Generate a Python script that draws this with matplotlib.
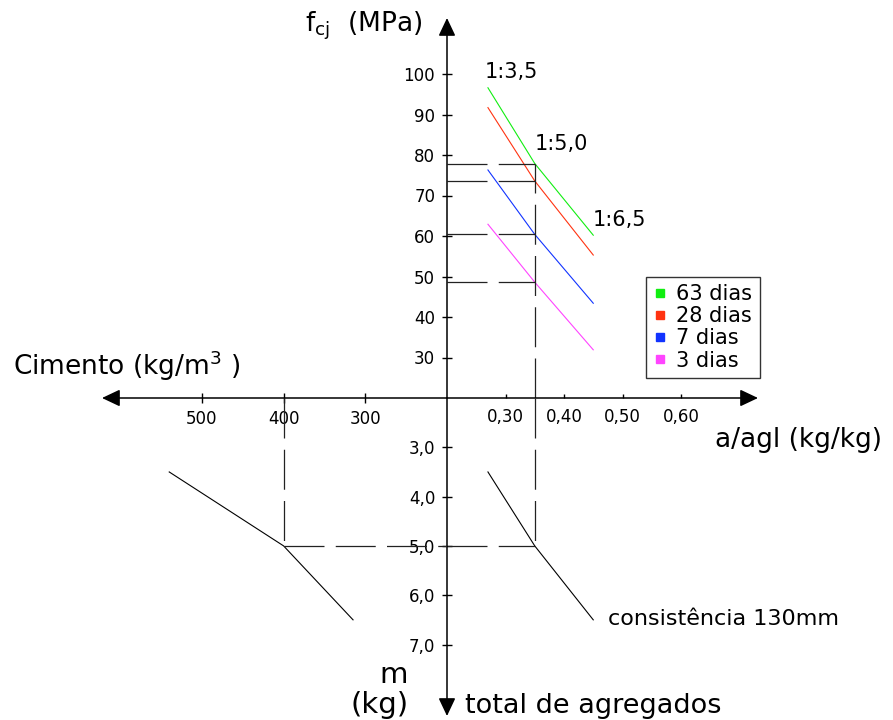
import matplotlib
matplotlib.use("Agg")
import matplotlib.pyplot as plt
from matplotlib.lines import Line2D

# diagrama de dosagem (4 quadrantes)
m_values = [3.5, 5.0, 6.5]            # traco 1:m
trace_labels = ["1:3,5", "1:5,0", "1:6,5"]
a_agl = [0.27, 0.35, 0.45]            # relacao agua/aglomerante
cimento = [540, 400, 315]             # consumo de cimento (kg/m3)

ages = ["63 dias", "28 dias", "7 dias", "3 dias"]
fcj_63 = [96.6, 77.9, 60.2]
fcj_28 = [91.7, 73.6, 55.3]
fcj_7 = [76.3, 60.4, 43.4]
fcj_3 = [62.9, 48.6, 31.9]
colors = ["#11ee11", "#ff3311", "#1133ff", "#ff44ff"]

# ponto escolhido (linhas tracejadas)
a_agl_sel = 0.35
m_sel = 5.0
cimento_sel = 400

fcj_ticks = [30, 40, 50, 60, 70, 80, 90, 100]
a_ticks = [0.30, 0.40, 0.50, 0.60]
cim_ticks = [300, 400, 500]
m_ticks = [3, 4, 5, 6, 7]

# origem de cada escala no cruzamento dos eixos
A0, F0, C0, M0 = 0.20, 20, 200, 2.0

W, H = 893, 720


def rect(x0, y0, x1, y1):
    # pixels (y medido de cima) -> fracao da figura
    return [x0 / W, 1 - y1 / H, (x1 - x0) / W, (y1 - y0) / H]


def fig_text(fig, x, y, s, size, **kw):
    fig.text(x / W, 1 - y / H, s, fontsize=size, va="baseline", **kw)


def arrow(ax, start, end):
    ax.annotate("", xy=end, xytext=start, xycoords="axes fraction",
                arrowprops=dict(arrowstyle="-|>,head_length=0.55,head_width=0.26",
                                color="black", lw=1.1, mutation_scale=20,
                                shrinkA=0, shrinkB=0))


def comma(v, nd):
    return f"{v:.{nd}f}".replace(".", ",")


fig = plt.figure(figsize=(W / 100, H / 100), dpi=100)

ur = fig.add_axes(rect(447, 18, 758, 398))
ul = fig.add_axes(rect(102, 18, 447, 398))
lr = fig.add_axes(rect(447, 398, 758, 716))
ll = fig.add_axes(rect(102, 398, 447, 716))

a_lim = (A0, A0 + 311 / 585)
f_lim = (F0, F0 + 380 / 4.05)
c_lim = (C0 + 345 / 0.817, C0)
m_lim = (M0 + 318 / 49.3, M0)

for ax in (ur, ul, lr, ll):
    ax.set_facecolor("none")
    for sp in ax.spines.values():
        sp.set_visible(False)

ur.set_xlim(a_lim); ur.set_ylim(f_lim)
ul.set_xlim(c_lim); ul.set_ylim(f_lim)
lr.set_xlim(a_lim); lr.set_ylim(m_lim)
ll.set_xlim(c_lim); ll.set_ylim(m_lim)

# ticks
ur.set_xticks(a_ticks, [comma(v, 2) for v in a_ticks])
ur.set_yticks(fcj_ticks, [str(v) for v in fcj_ticks])
ur.tick_params(axis="x", direction="in", length=3, width=1, labelsize=12, pad=7)
ur.tick_params(axis="y", direction="inout", length=7, width=1, labelsize=12, pad=5)
ul.set_xticks(cim_ticks, [str(v) for v in cim_ticks])
ul.set_yticks([])
ul.tick_params(axis="x", direction="inout", length=7, width=1, labelsize=12, pad=5)
lr.set_xticks([])
lr.set_yticks(m_ticks, [comma(v, 1) for v in m_ticks])
lr.tick_params(axis="y", direction="inout", length=7, width=1, labelsize=12, pad=5)
ll.set_xticks([]); ll.set_yticks([])

# eixos com setas
arrow(ur, (0, 0), (1, 0))
arrow(ur, (0, 0), (0, 1))
arrow(ul, (1, 0), (0, 0))
arrow(lr, (0, 1), (0, 0))

# curvas de Abrams
series = [fcj_63, fcj_28, fcj_7, fcj_3]
for vals, col, lab in zip(series, colors, ages):
    ur.plot(a_agl, vals, color=col, lw=0.8, label=lab)

# lei de Lyse e lei de Molinari
lr.plot(a_agl, m_values, color="black", lw=0.8)
ll.plot(cimento, m_values, color="black", lw=0.8)

# linhas tracejadas do exemplo
dash = dict(color="#222222", lw=0.9, linestyle=(0, (32, 9)))
idx = a_agl.index(a_agl_sel)
for vals in series:
    ur.plot([A0, a_agl_sel], [vals[idx], vals[idx]], **dash)
ur.plot([a_agl_sel, a_agl_sel], [F0, max(v[idx] for v in series)], **dash)
lr.plot([a_agl_sel, a_agl_sel], [M0, m_sel], **dash)
lr.plot([A0, a_agl_sel], [m_sel, m_sel], **dash)
ll.plot([cimento_sel, C0], [m_sel, m_sel], **dash)
ll.plot([cimento_sel, cimento_sel], [M0, m_sel], **dash)

# legenda
handles = [Line2D([], [], marker="s", ls="none", color=c, markersize=6)
           for c in colors]
leg = fig.legend(handles, ages, loc="upper left",
                 bbox_to_anchor=(646 / W, 1 - 277 / H), borderaxespad=0,
                 fontsize=15, frameon=True, fancybox=False, edgecolor="black",
                 handlelength=0.6, handletextpad=0.5, labelspacing=0.1,
                 borderpad=0.35)
leg.get_frame().set_linewidth(1.0)

# textos
fig_text(fig, 305, 32, r"f$_{\mathregular{cj}}$  (MPa)", 19)
fig_text(fig, 13, 375, r"Cimento (kg/m$^{\mathregular{3}}$ )", 19)
fig_text(fig, 715, 447, "a/agl (kg/kg)", 19)
fig_text(fig, 465, 713, "total de agregados", 19.5)
fig_text(fig, 394, 683, "m", 21, ha="center")
fig_text(fig, 380, 713, "(kg)", 21, ha="center")
fig_text(fig, 608, 625, "consistência 130mm", 16)
for lab, x, y in zip(trace_labels, [485, 535, 593], [78, 150, 226]):
    fig_text(fig, x, y, lab, 15)

fig.savefig("out.png", dpi=100)
